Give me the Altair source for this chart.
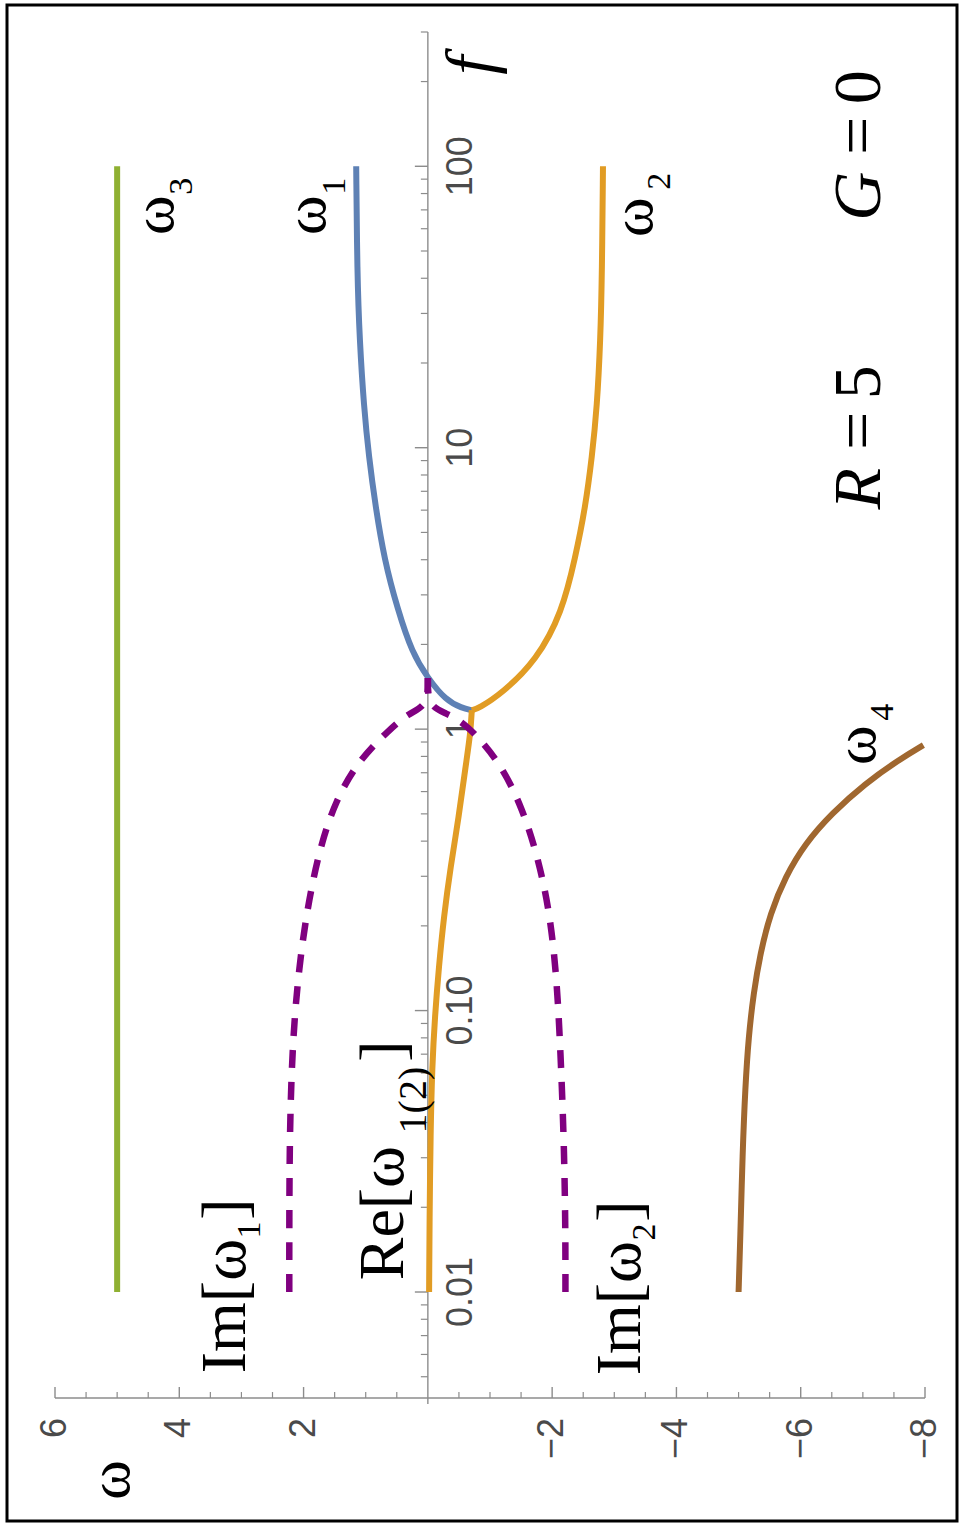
import altair as alt
import pandas as pd

# ---------------- data ----------------
# omega_1 (blue): from the branch point upward
w1_f = [1.168, 1.187, 1.268, 1.518, 1.862, 2.68, 4.0, 6.16, 9.28, 13.96, 24.1, 41.6, 100]
w1_w = [-0.707, -0.55, -0.285, 0.0, 0.252, 0.49, 0.70, 0.841, 0.949, 1.029, 1.098, 1.137, 1.153]
# omega_2 (orange): from the branch point upward
w2_f = [1.168, 1.187, 1.342, 1.758, 2.6, 4.09, 6.16, 9.28, 13.96, 24.1, 41.6, 100]
w2_w = [-0.707, -0.82, -1.195, -1.75, -2.16, -2.375, -2.535, -2.641, -2.722, -2.777, -2.802, -2.818]
# Re[omega_1(2)] (orange) below the branch point
re_f = [0.01, 0.018, 0.0367, 0.0632, 0.0951, 0.1431, 0.2154, 0.324, 0.488, 0.735, 0.968, 1.168]
re_w = [-0.02, -0.027, -0.043, -0.069, -0.113, -0.177, -0.257, -0.365, -0.498, -0.606, -0.686, -0.707]
# omega_3 (green)
w3_f = [0.01, 100]
w3_w = [5.0, 5.0]
# omega_4 (brown)
w4_f = [0.01, 0.0153, 0.0312, 0.0536, 0.0807, 0.1151, 0.1597, 0.2215, 0.2987, 0.3926, 0.502, 0.641, 0.776, 0.877]
w4_w = [-5.0, -5.027, -5.064, -5.108, -5.161, -5.241, -5.349, -5.51, -5.751, -6.072, -6.5, -7.037, -7.572, -7.974]
# Im[omega_1], Im[omega_2] (purple dashed)
im1_f = [0.01, 0.018, 0.0367, 0.0724, 0.1252, 0.2154, 0.3716, 0.5595, 0.776, 0.992, 1.14, 1.21, 1.52]
im1_w = [2.23, 2.23, 2.223, 2.182, 2.101, 1.966, 1.752, 1.484, 1.109, 0.627, 0.31, 0.0, 0.0]
im2_f = [0.01, 0.018, 0.0367, 0.0724, 0.1252, 0.2154, 0.3424, 0.5297, 0.776, 1.05, 1.14, 1.21, 1.52]
im2_w = [-2.214, -2.214, -2.186, -2.133, -2.079, -1.973, -1.785, -1.516, -1.141, -0.606, -0.29, 0.0, 0.0]

# axes
f_major = [0.01, 0.1, 1, 10, 100]
f_major_labels = ["0.01", "0.10", "1", "10", "100"]
f_minor = [k * 10.0 ** d for d in range(-3, 3) for k in range(2, 10)
           if 0.0049 < k * 10.0 ** d < 301 and k * 10.0 ** d not in f_major]
w_major = [6, 4, 2, -2, -4, -6, -8]
w_major_labels = ["6", "4", "2", "\u22122", "\u22124", "\u22126", "\u22128"]
w_minor = [5.5, 5, 4.5, 3.5, 3, 2.5, 1.5, 1, 0.5, -0.5, -1, -1.5, -2.5, -3, -3.5,
           -4.5, -5, -5.5, -6.5, -7, -7.5]
f_axis_at = 0.0042          # f-value where the omega axis sits
f_range = [0.004, 300]
w_range = [6, -8]

# annotations (text, omega, f, font size)
lab_text = ["\u03c9", "\u03c9", "3", "\u03c9", "1", "\u03c9", "2", "\u03c9", "4",
            "Im[\u03c9", "1", "]", "Im[\u03c9", "2", "]", "Re[\u03c9", "1(2)", "]",
            "=", "5", "=", "0"]
lab_w = [4.809, 4.101, 3.795, 1.655, 1.333, -3.607, -3.897, -7.195, -7.485,
         2.943, 2.701, 2.943, -3.414, -3.655, -3.414, 0.400, 0.03, 0.400,
         -7.276, -7.276, -7.276, -7.276]
lab_f = [0.002148, 66.96, 84.92, 66.96, 84.92, 65.87, 88.45, 0.8773, 1.149,
         0.00892, 0.01661, 0.01971, 0.008772, 0.01633, 0.0194, 0.01908, 0.04808, 0.07181,
         11.49, 17.09, 128.3, 190.9]
lab_size = [60, 60, 34, 60, 34, 60, 34, 60, 34,
            64, 34, 64, 64, 34, 64, 64, 40, 64,
            68, 68, 68, 68]
ital_text = ["f", "R", "G"]
ital_w = [-1.048, -7.276, -7.276]
ital_f = [228.5, 7.150, 78.24]
ital_size = [68, 68, 68]

# ---------------- chart ----------------
W, H = 870, 1372
xsc = alt.Scale(domain=w_range, nice=False, zero=False)
ysc = alt.Scale(type="log", domain=f_range, nice=False)
X = alt.X("w:Q", scale=xsc, axis=None)
Y = alt.Y("f:Q", scale=ysc, axis=None)

AX = "#8c8c8c"
TXT = "#4a4a4a"


def sdf(fs, ws):
    return pd.DataFrame({"f": fs, "w": ws, "i": list(range(len(fs)))})


layers = []

# frame around the whole figure
layers.append(
    alt.Chart(alt.Data(values=[{"a": 1}])).mark_rect(
        fill="transparent", stroke="black", strokeWidth=3
    ).encode(x=alt.value(-48), x2=alt.value(902), y=alt.value(-27), y2=alt.value(1489))
)

# f axis (vertical, at omega = 0)
layers.append(
    alt.Chart(pd.DataFrame({"w": [0], "f": [f_range[1]], "f2": [f_range[0]]}))
    .mark_rule(color=AX, strokeWidth=1.4)
    .encode(x=X, y=Y, y2="f2:Q")
)
# omega axis (horizontal)
layers.append(
    alt.Chart(pd.DataFrame({"w": [w_range[0]], "w2": [w_range[1]], "f": [f_axis_at]}))
    .mark_rule(color=AX, strokeWidth=1.4)
    .encode(x=X, x2="w2:Q", y=Y)
)
# f ticks
layers.append(
    alt.Chart(pd.DataFrame({"f": f_major, "w": 0}))
    .mark_rule(color=AX, strokeWidth=1.4, xOffset=-13)
    .encode(x=X, x2="w:Q", y=Y)
)
layers.append(
    alt.Chart(pd.DataFrame({"f": f_minor, "w": 0}))
    .mark_rule(color=AX, strokeWidth=1.2, xOffset=-7)
    .encode(x=X, x2="w:Q", y=Y)
)
# omega ticks
layers.append(
    alt.Chart(pd.DataFrame({"w": w_major, "f": f_axis_at}))
    .mark_rule(color=AX, strokeWidth=1.4, yOffset=-11)
    .encode(x=X, y=Y, y2="f:Q")
)
layers.append(
    alt.Chart(pd.DataFrame({"w": w_minor, "f": f_axis_at}))
    .mark_rule(color=AX, strokeWidth=1.2, yOffset=-6)
    .encode(x=X, y=Y, y2="f:Q")
)
# tick labels
layers.append(
    alt.Chart(pd.DataFrame({"f": f_major, "w": 0, "t": f_major_labels}))
    .mark_text(angle=270, align="center", baseline="alphabetic", dy=44,
               font="Liberation Sans", fontSize=36, color=TXT)
    .encode(x=X, y=Y, text="t:N")
)
layers.append(
    alt.Chart(pd.DataFrame({"w": w_major, "f": f_axis_at, "t": w_major_labels}))
    .mark_text(angle=270, align="right", baseline="middle", dx=-20,
               font="Liberation Sans", fontSize=36, color=TXT)
    .encode(x=X, y=Y, text="t:N")
)

# curves
for fs, ws, col in [(w1_f, w1_w, "#5e81b5"), (re_f, re_w, "#e19c24"), (w2_f, w2_w, "#e19c24"),
                    (w3_f, w3_w, "#8fb032"), (w4_f, w4_w, "#a0672f")]:
    layers.append(
        alt.Chart(sdf(fs, ws)).mark_line(color=col, strokeWidth=6, interpolate="basis")
        .encode(x=X, y=Y, order="i:Q")
    )
for fs, ws in [(im1_f, im1_w), (im2_f, im2_w)]:
    layers.append(
        alt.Chart(sdf(fs, ws)).mark_line(color="#800080", strokeWidth=6.5, strokeDash=[18, 14],
                                         interpolate="basis")
        .encode(x=X, y=Y, order="i:Q")
    )

# annotations
layers.append(
    alt.Chart(pd.DataFrame({"t": lab_text, "w": lab_w, "f": lab_f, "s": lab_size}))
    .mark_text(angle=270, align="center", baseline="alphabetic", font="Liberation Serif",
               color="black")
    .encode(x=X, y=Y, text="t:N", size=alt.Size("s:Q", scale=None, legend=None))
)
layers.append(
    alt.Chart(pd.DataFrame({"t": ital_text, "w": ital_w, "f": ital_f, "s": ital_size}))
    .mark_text(angle=270, align="center", baseline="alphabetic", font="Liberation Serif",
               fontStyle="italic", color="black")
    .encode(x=X, y=Y, text="t:N", size=alt.Size("s:Q", scale=None, legend=None))
)

chart = alt.layer(*layers).properties(
    width=W, height=H,
    padding={"left": 55, "top": 32, "right": 39, "bottom": 122},
    autosize=alt.AutoSizeParams(type="none"),
    background="white",
).configure_view(strokeWidth=0)

chart.save("out.html", embed_options={"renderer": "svg", "actions": False})
